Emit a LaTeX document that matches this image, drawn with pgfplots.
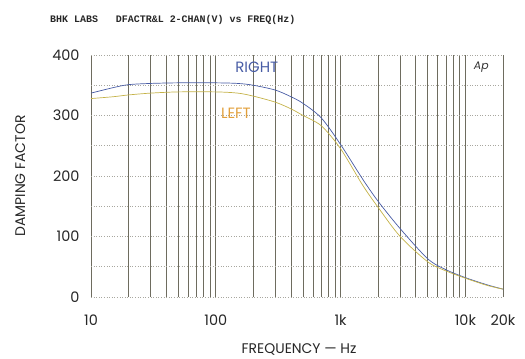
\documentclass[border=0pt]{standalone}
\usepackage{pgfplots}
\pgfplotsset{compat=1.18}
\usepackage{fontspec}
\setmainfont{Poppins}
\newfontfamily\monofont{Liberation Mono}
\definecolor{rightblue}{RGB}{72,92,165}
\definecolor{leftcurve}{RGB}{196,178,72}
\definecolor{leftlabel}{RGB}{226,160,60}
\definecolor{gridgray}{RGB}{110,108,95}

\begin{document}
\begin{tikzpicture}
\useasboundingbox (-91bp,-62bp) rectangle (434bp,297bp);
\begin{axis}[
	at={(0,0)}, anchor=south west,
	scale only axis,
	width=412bp, height=242bp,
	clip=false,
	xmode=log,
	xmin=10, xmax=20000,
	ymin=0, ymax=400,
	xtick={10,100,1000,10000,20000},
	xticklabels={10,100,1k,10k,20k},
	minor xtick={20,30,40,50,60,70,80,90,200,300,400,500,600,700,800,900,2000,3000,4000,5000,6000,7000,8000,9000},
	ytick={0,100,200,300,400},
	minor ytick={50,150,250,350},
	xmajorgrids, xminorgrids, ymajorgrids, yminorgrids,
	x grid style={draw=gridgray, line width=0.8bp},
	y grid style={draw=gridgray!60, line width=0.6bp, dotted},
	axis line style={draw=none},
	major tick length=0pt, minor tick length=0pt,
	/pgf/number format/assume math mode=true,
	tick label style={font=\fontsize{14.5}{16}\selectfont, text=black!85},
	xticklabel style={yshift=-14bp},
	yticklabel style={xshift=-8bp},
	ylabel={DAMPING FACTOR},
	xlabel={FREQUENCY --- Hz},
	label style={font=\fontsize{14}{16}\selectfont, text=black!85},
	ylabel style={at={(axis description cs:-0.172,0.5)}, anchor=center},
	xlabel style={at={(axis description cs:0.505,-0.215)}, anchor=center},
]
% RIGHT channel
\addplot[rightblue, line width=0.7bp, smooth] coordinates {
	(10,337) (15,346) (20,351) (30,353) (50,354) (100,354) (150,353)
	(200,350) (300,342) (400,331) (500,320) (700,296) (1000,252)
	(1500,195) (2000,158) (3000,113) (5000,63) (7000,45) (10000,32)
	(15000,20) (20000,13)
};
% LEFT channel
\addplot[leftcurve, line width=0.7bp, smooth] coordinates {
	(10,328) (15,331) (20,334) (30,337) (50,339) (100,339) (150,337)
	(200,332) (300,322) (400,311) (500,300) (700,283) (1000,245)
	(1500,185) (2000,148) (3000,100) (5000,58) (7000,43) (10000,31)
	(15000,19) (20000,13)
};
\node[text=rightblue, font=\fontsize{15}{17}\selectfont] at (axis cs:213,379) {RIGHT};
\node[text=leftlabel, font=\fontsize{15}{17}\selectfont] at (axis cs:145,303) {LEFT};
\node[font=\itshape\fontsize{11}{12}\selectfont, text=black!80] at (axis cs:13400,380) {Ap};
\node[anchor=west, inner sep=0pt, font=\monofont\bfseries\fontsize{10}{11}\selectfont, text=black!85] at (rel axis cs:-0.0995,1.143) {BHK LABS\ \ \ DFACTR\&L 2-CHAN(V) vs FREQ(Hz)};
\end{axis}
\end{tikzpicture}
\end{document}
